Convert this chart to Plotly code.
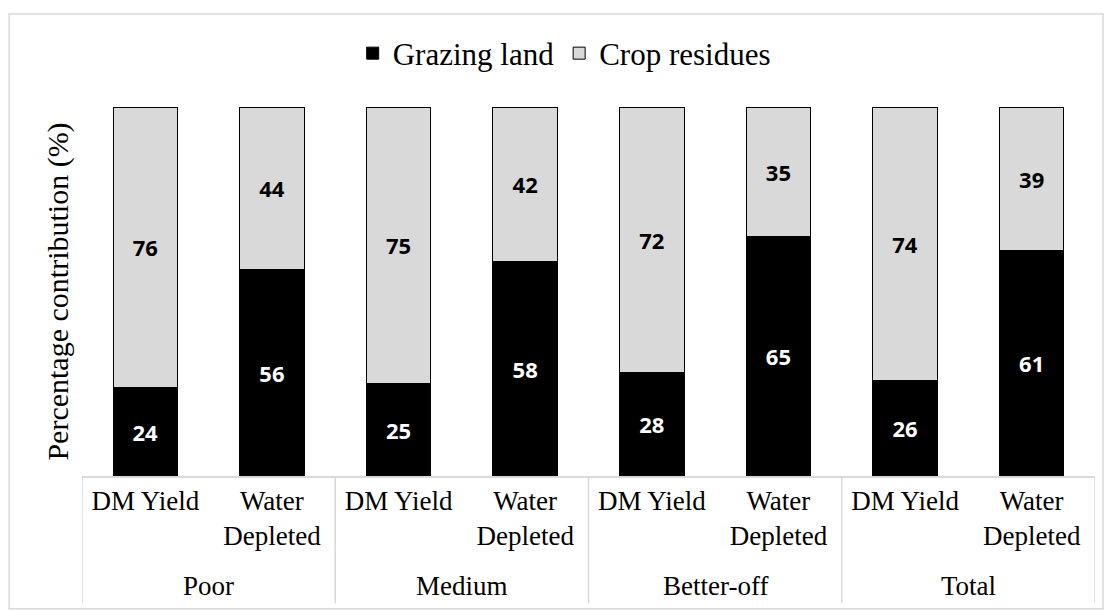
import plotly.graph_objects as go

groups = ["Poor", "Medium", "Better-off", "Total"]
measures = ["DM Yield", "Water<br>Depleted"]
grazing_land = [24, 56, 25, 58, 28, 65, 26, 61]
crop_residues = [76, 44, 75, 42, 72, 35, 74, 39]

serif = "Liberation Serif, Times New Roman, serif"
label_font = "Open Sans, Liberation Sans, sans-serif"

# one slot per bar: group x measure
tick_text = [m for g in groups for m in measures]
xpos = list(range(len(tick_text)))
n_m = len(measures)

fig = go.Figure()
fig.add_trace(go.Bar(
    name="Grazing land", x=xpos, y=grazing_land, width=0.51,
    marker=dict(color="#000000", line=dict(color="#000000", width=1)),
    text=grazing_land, textposition="inside", insidetextanchor="middle",
    textfont=dict(color="white", size=22, family=label_font, weight="bold"),
))
fig.add_trace(go.Bar(
    name="Crop residues", x=xpos, y=crop_residues, width=0.51,
    marker=dict(color="#d9d9d9", line=dict(color="#000000", width=1)),
    text=crop_residues, textposition="inside", insidetextanchor="middle",
    textfont=dict(color="black", size=22, family=label_font, weight="bold"),
))

# group labels under the category labels, with light dividers between groups
annotations = []
shapes = []
for i, g in enumerate(groups):
    annotations.append(dict(text=g, x=i * n_m + (n_m - 1) / 2, xref="x", y=-0.298, yref="paper",
                            showarrow=False, yanchor="middle",
                            font=dict(size=27, family=serif, color="black")))
for i in range(len(groups) + 1):
    shapes.append(dict(type="line", xref="x", yref="paper", x0=i * n_m - 0.5, x1=i * n_m - 0.5,
                       y0=0, y1=-0.345, line=dict(color="#d9d9d9", width=1.5)))

# outer chart border
shapes.append(dict(type="rect", xref="paper", yref="paper",
                   x0=-0.072, x1=1.008, y0=-0.36, y1=1.252,
                   line=dict(color="#d9d9d9", width=1.5), fillcolor="rgba(0,0,0,0)",
                   layer="below"))

# the page body has an 8px margin, so the figure is shrunk by that much
fig.update_layout(
    barmode="stack",
    width=1104, height=602,
    margin=dict(l=74, r=17, t=99, b=134),
    paper_bgcolor="white", plot_bgcolor="white",
    font=dict(family=serif, size=27, color="black"),
    uniformtext=dict(mode="show", minsize=22),
    showlegend=True,
    legend=dict(orientation="h", x=0.476, xanchor="center", y=1.145, yanchor="middle",
                font=dict(size=31, family=serif), traceorder="normal",
                itemwidth=30),
    xaxis=dict(range=[-0.5, len(xpos) - 0.5], tickmode="array", tickvals=xpos, ticktext=tick_text,
               showline=True, linecolor="#d9d9d9", linewidth=1.5, showgrid=False, zeroline=False,
               tickfont=dict(size=27, family=serif), ticks=""),
    yaxis=dict(range=[0, 100], showticklabels=False, showgrid=False, zeroline=False,
               title=dict(text="Percentage contribution (%)", font=dict(size=30, family=serif),
                          standoff=3)),
    annotations=annotations,
    shapes=shapes,
)

fig.write_html("out.html")
